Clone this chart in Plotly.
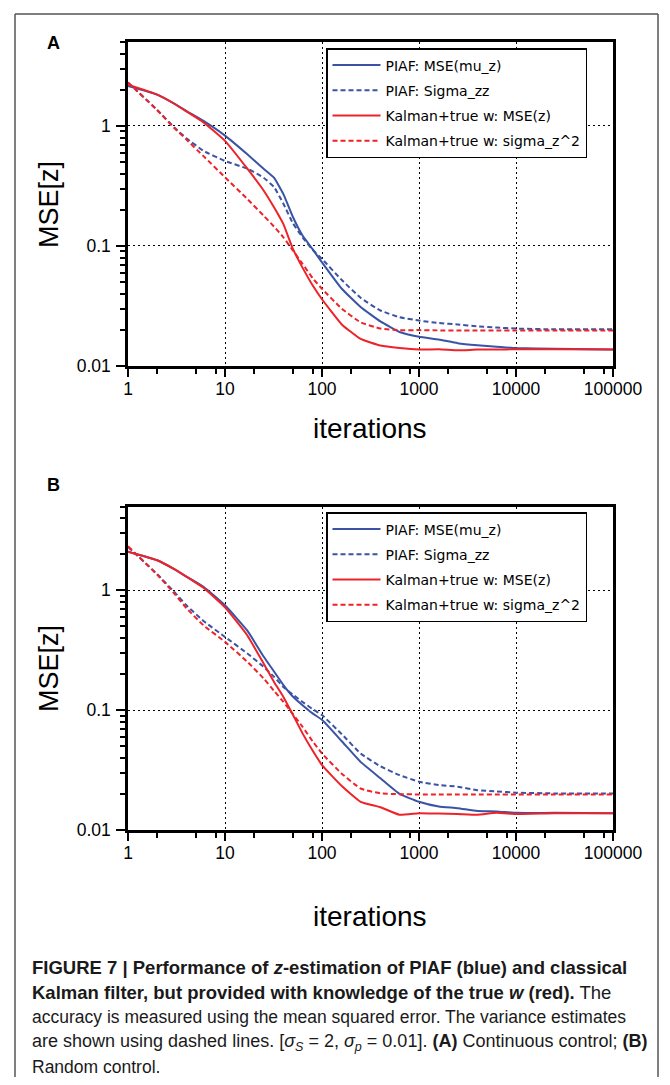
import plotly.graph_objects as go

OFF = 8  # default body margin of the html page
W, H = 670 - 2 * OFF, 1085 - 2 * OFF

# ---------------- data ----------------
iterations = [1, 2, 3, 4, 6, 10, 17, 25, 32, 40, 50, 63, 80, 100, 160, 250,
              400, 630, 1000, 1600, 2500, 4000, 6300, 10000, 25000, 100000]

# Panel A (continuous control)
piaf_mse_a = [2.15, 1.82, 1.53, 1.33, 1.10, 0.83, 0.58, 0.44, 0.37, 0.27, 0.175, 0.122,
              0.094, 0.073, 0.044, 0.031, 0.0235, 0.0192, 0.0175, 0.0166, 0.0155,
              0.0149, 0.0145, 0.0141, 0.0139, 0.0137]
piaf_sig_a = [2.30, 1.36, 0.97, 0.79, 0.62, 0.51, 0.44, 0.37, 0.31, 0.225, 0.155, 0.118,
              0.093, 0.078, 0.052, 0.037, 0.029, 0.0255, 0.0239, 0.0228, 0.0222,
              0.0214, 0.0209, 0.0205, 0.0202, 0.0202]
kal_mse_a = [2.20, 1.82, 1.53, 1.32, 1.07, 0.75, 0.44, 0.29, 0.21, 0.152, 0.095, 0.066,
             0.047, 0.036, 0.0222, 0.0168, 0.0148, 0.0141, 0.0137, 0.0138, 0.0135,
             0.0137, 0.0137, 0.0138, 0.0138, 0.0137]
kal_sig_a = [2.30, 1.35, 0.96, 0.77, 0.56, 0.373, 0.246, 0.179, 0.145, 0.118, 0.092, 0.071,
             0.054, 0.044, 0.030, 0.0231, 0.0205, 0.0199, 0.0199, 0.0198, 0.0198,
             0.0198, 0.0198, 0.0198, 0.0198, 0.0198]

# Panel B (random control)
piaf_mse_b = [2.10, 1.78, 1.50, 1.30, 1.07, 0.75, 0.46, 0.28, 0.21, 0.162, 0.13, 0.110,
              0.094, 0.083, 0.055, 0.037, 0.027, 0.0200, 0.0172, 0.0157, 0.0152,
              0.0144, 0.0143, 0.0139, 0.0139, 0.0138]
piaf_sig_b = [2.30, 1.36, 0.97, 0.75, 0.555, 0.408, 0.297, 0.23, 0.19, 0.156, 0.135, 0.117,
              0.102, 0.091, 0.063, 0.0435, 0.034, 0.0287, 0.0253, 0.0237, 0.0230,
              0.0215, 0.0210, 0.0205, 0.0202, 0.0202]
kal_mse_b = [2.10, 1.78, 1.50, 1.30, 1.05, 0.72, 0.42, 0.245, 0.172, 0.129, 0.092, 0.064,
             0.046, 0.0348, 0.0233, 0.0172, 0.0155, 0.0134, 0.0138, 0.0137, 0.0136,
             0.0134, 0.0139, 0.0136, 0.0138, 0.0138]
kal_sig_b = [2.33, 1.35, 0.94, 0.71, 0.51, 0.371, 0.253, 0.184, 0.145, 0.117, 0.093, 0.0727,
             0.055, 0.0435, 0.0295, 0.0222, 0.0202, 0.0199, 0.0198, 0.0198, 0.0198,
             0.0198, 0.0198, 0.0198, 0.0198, 0.0198]

series_names = ["PIAF: MSE(mu_z)", "PIAF: Sigma_zz",
                "Kalman+true w: MSE(z)", "Kalman+true w: sigma_z^2"]

x_tick_vals = [1, 10, 100, 1000, 10000, 100000]
x_tick_text = ["1", "10", "100", "1000", "10000", "100000"]
y_tick_vals = [0.01, 0.1, 1]
y_tick_text = ["0.01", "0.1", "1"]

caption_lines = [
    "<b>FIGURE 7 | Performance of <i>z</i>-estimation of PIAF (blue) and classical</b>",
    "<b>Kalman filter, but provided with knowledge of the true <i>w</i> (red).</b> The",
    "accuracy is measured using the mean squared error. The variance estimates",
    "are shown using dashed lines. [<i>σ<sub>S</sub></i> = 2, <i>σ<sub>p</sub></i> = 0.01]. "
    "<b>(A)</b> Continuous control; <b>(B)</b>",
    "Random control.",
]
caption_sizes = [18.5, 18.5, 17.5, 18, 17.5]

# ---------------- styling ----------------
BLUE = "#3a53a4"
RED = "#ee2329"
DASH = "5px,3px"
SANS = "Liberation Sans, Arial, Helvetica, sans-serif"
LEGFONT = "DejaVu Sans, sans-serif"


def px(x):
    return (x - OFF) / W


def py(y):
    return 1 - (y - OFF) / H


fig = go.Figure()

panels = [
    ("x", "y", "legend", [piaf_mse_a, piaf_sig_a, kal_mse_a, kal_sig_a]),
    ("x2", "y2", "legend2", [piaf_mse_b, piaf_sig_b, kal_mse_b, kal_sig_b]),
]
styles = [(BLUE, "solid"), (BLUE, DASH), (RED, "solid"), (RED, DASH)]

for xa, ya, leg, data in panels:
    for i, (vals, (col, dash)) in enumerate(zip(data, styles)):
        fig.add_trace(go.Scatter(
            x=iterations, y=vals, mode="lines", name=series_names[i],
            line=dict(color=col, width=2, dash=dash, shape="spline", smoothing=0.4),
            xaxis=xa, yaxis=ya, legend=leg, legendgroup=f"{leg}{i}",
            showlegend=True))

x_minor = [m * 10 ** k for k in range(0, 5) for m in (2, 5, 8)]
y_minor = [m * 10 ** k for k in (-2, -1, 0) for m in range(2, 10) if m * 10 ** k <= 5]

x_dom = [px(128), px(613)]
y_doms = {"A": [py(366), py(42)], "B": [py(830), py(506.5)]}


def xaxis_cfg(anchor):
    return dict(
        type="log", range=[0, 5], domain=x_dom, anchor=anchor,
        showline=True, linewidth=2.5, linecolor="black", mirror=True,
        tickmode="array", tickvals=x_tick_vals, ticktext=x_tick_text,
        ticks="outside", ticklen=8, tickwidth=2, tickcolor="black",
        tickfont=dict(family=SANS, size=17.5, color="black"),
        ticklabelstandoff=-3,
        showgrid=True, gridcolor="black", gridwidth=1, griddash="2px,3px",
        minor=dict(tickmode="array", tickvals=x_minor, ticks="outside",
                   ticklen=5, tickwidth=2, tickcolor="black", showgrid=False),
        zeroline=False, automargin=False, fixedrange=True)


def yaxis_cfg(anchor, dom):
    return dict(
        type="log", range=[-2, 0.69897], domain=dom, anchor=anchor,
        showline=True, linewidth=2.5, linecolor="black", mirror=True,
        tickmode="array", tickvals=y_tick_vals, ticktext=y_tick_text,
        ticks="outside", ticklen=9, tickwidth=2, tickcolor="black",
        tickfont=dict(family=SANS, size=17.5, color="black"),
        ticklabelstandoff=2,
        showgrid=True, gridcolor="black", gridwidth=1, griddash="2px,3px",
        minor=dict(tickmode="array", tickvals=y_minor, ticks="outside",
                   ticklen=5, tickwidth=2, tickcolor="black", showgrid=False),
        zeroline=False, automargin=False, fixedrange=True)


def legend_cfg(ytop):
    return dict(
        x=px(326), y=py(ytop), xanchor="left", yanchor="top",
        bgcolor="white", bordercolor="black", borderwidth=1.5,
        font=dict(family=LEGFONT, size=14, color="black"),
        itemwidth=48, tracegroupgap=4, traceorder="grouped")


annotations = []
for lab, yc_title, yc_lab, yc_x in [("A", 204, 43, 428), ("B", 668, 485, 916)]:
    annotations.append(dict(text="<b>" + lab + "</b>", x=px(53), y=py(yc_lab),
                            xref="paper", yref="paper", showarrow=False,
                            xanchor="center", yanchor="middle",
                            font=dict(family=SANS, size=18, color="black")))
    annotations.append(dict(text="MSE[z]", x=px(49), y=py(yc_title), xref="paper",
                            yref="paper", showarrow=False, textangle=-90,
                            xanchor="center", yanchor="middle",
                            font=dict(family=SANS, size=27, color="black")))
    annotations.append(dict(text="iterations", x=px(370), y=py(yc_x), xref="paper",
                            yref="paper", showarrow=False, xanchor="center",
                            yanchor="middle",
                            font=dict(family=SANS, size=28, color="black")))

for i, line in enumerate(caption_lines):
    annotations.append(dict(text=line, x=px(30), y=py(967 + 25 * i), xref="paper",
                            yref="paper", showarrow=False, xanchor="left",
                            yanchor="middle", align="left",
                            font=dict(family=SANS, size=caption_sizes[i],
                                      color="#1a1a1a")))

frame_line = dict(color="#555555", width=1.5)
frame = [
    dict(type="line", xref="paper", yref="paper", x0=px(15), x1=px(15),
         y0=py(14), y1=0, line=frame_line, layer="above"),
    dict(type="line", xref="paper", yref="paper", x0=px(15), x1=px(658),
         y0=py(14), y1=py(14), line=frame_line, layer="above"),
    dict(type="line", xref="paper", yref="paper", x0=px(658), x1=px(658),
         y0=py(14), y1=0, line=frame_line, layer="above"),
]

fig.update_layout(
    width=W, height=H, margin=dict(l=0, r=0, t=0, b=0),
    template="none", paper_bgcolor="white", plot_bgcolor="white",
    xaxis=xaxis_cfg("y"), yaxis=yaxis_cfg("x", y_doms["A"]),
    xaxis2=xaxis_cfg("y2"), yaxis2=yaxis_cfg("x2", y_doms["B"]),
    legend=legend_cfg(48), legend2=legend_cfg(512),
    annotations=annotations,
    shapes=frame,
)

fig.write_html("out.html")
